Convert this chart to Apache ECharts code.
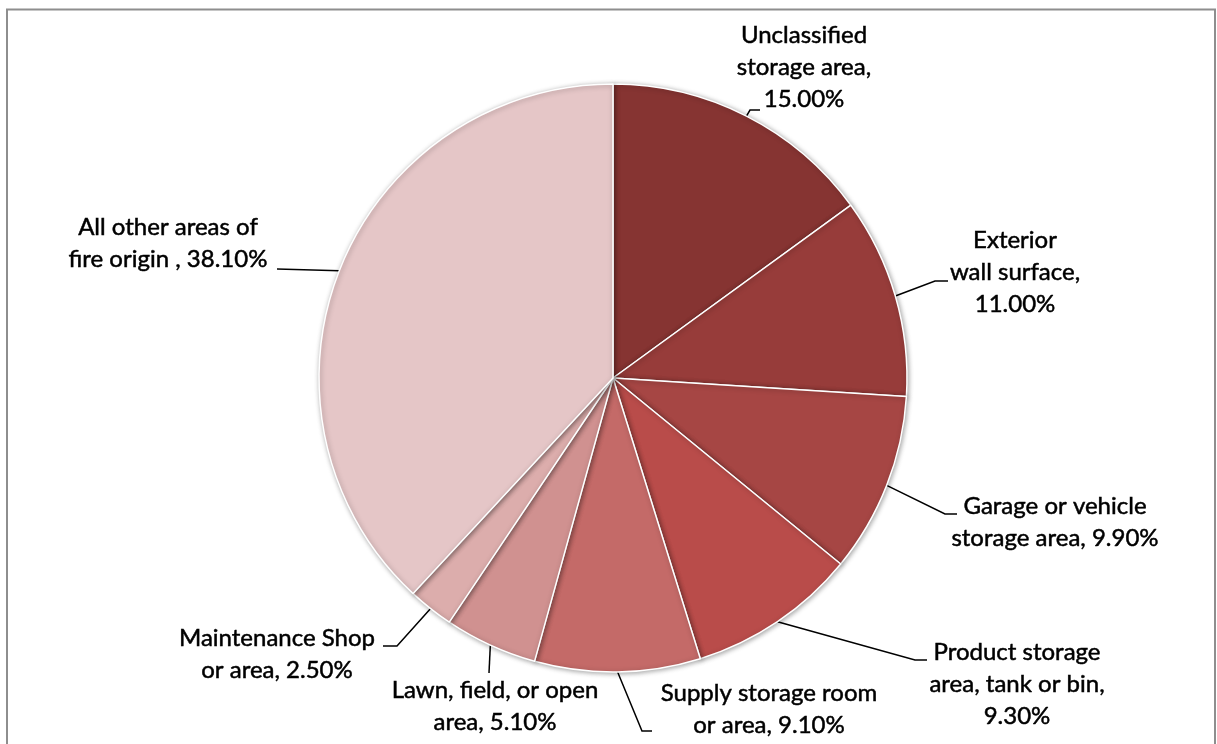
<!DOCTYPE html>
<html>
<head>
<meta charset="utf-8">
<script src="https://cdn.jsdelivr.net/npm/echarts@6/dist/echarts.min.js"></script>
<style>
  html, body { margin: 0; padding: 0; background: #ffffff; }
  #chart { width: 1217px; height: 744px; }
</style>
</head>
<body>
<div id="chart"></div>
<script>
// Areas of fire origin and their shares (%)
const categories = [
  'Unclassified storage area',
  'Exterior wall surface',
  'Garage or vehicle storage area',
  'Product storage area, tank or bin',
  'Supply storage room or area',
  'Lawn, field, or open area',
  'Maintenance Shop or area',
  'All other areas of fire origin '
];
const values = [15.0, 11.0, 9.9, 9.3, 9.1, 5.1, 2.5, 38.1];

// Label text as wrapped on the chart, and the separator before the value
const labelNames = [
  'Unclassified\nstorage area',
  'Exterior\nwall surface',
  'Garage or vehicle\nstorage area',
  'Product storage\narea, tank or bin',
  'Supply storage room\nor area',
  'Lawn, field, or open\narea',
  'Maintenance Shop\nor area',
  'All other areas of\nfire origin '
];
const valueSeparators = [',\n', ',\n', ', ', ',\n', ', ', ', ', ', ', ', '];

const sliceColors = ['#863432', '#973c3a', '#a64644', '#b94c4a', '#c46a68', '#d09190', '#dcadac', '#e5c6c7'];

// Label placement: text centre, leader bend point, leader end point
const labelSpots = [
  { x: 804, y: 67,  bend: [750, 110], end: [760, 110] },
  { x: 1015, y: 272, bend: [935, 281], end: [948, 281] },
  { x: 1055, y: 522, bend: [945, 514], end: [957, 514] },
  { x: 1017, y: 684, bend: [915, 660], end: [927, 660] },
  { x: 769, y: 709, bend: [642, 731], end: [652, 731] },
  { x: 495, y: 706, bend: [489, 673], end: [489, 673] },
  { x: 277, y: 654, bend: [397, 646], end: [383, 646] },
  { x: 168, y: 243, bend: [277, 269], end: [277, 269] }
];

const chart = echarts.init(document.getElementById('chart'), null, { renderer: 'canvas' });

const option = {
  backgroundColor: '#ffffff',
  animation: false,
  graphic: [{
    type: 'rect',
    shape: { x: 7, y: 9.5, width: 1208, height: 760 },
    style: { fill: 'none', stroke: '#8e8e8e', lineWidth: 2 },
    z: 0
  }],
  series: [{
    type: 'pie',
    center: [613, 378],
    radius: 294,
    startAngle: 90,
    clockwise: true,
    avoidLabelOverlap: false,
    data: categories.map((name, i) => ({
      name: name,
      value: values[i],
      itemStyle: { color: sliceColors[i] }
    })),
    itemStyle: {
      borderColor: '#ffffff',
      borderWidth: 1.5,
      shadowBlur: 5,
      shadowColor: 'rgba(0,0,0,0.35)',
      shadowOffsetX: 1,
      shadowOffsetY: 1
    },
    label: {
      show: true,
      position: 'outside',
      color: '#000000',
      fontFamily: 'Lato, "Open Sans", sans-serif',
      fontSize: 24,
      lineHeight: 32,
      align: 'center',
      textBorderColor: '#000000',
      textBorderWidth: 0.5,
      formatter: p => labelNames[p.dataIndex] + valueSeparators[p.dataIndex] + p.value.toFixed(2) + '%'
    },
    labelLine: {
      show: true,
      length: 10,
      length2: 10,
      lineStyle: { color: '#000000', width: 1.5 }
    },
    labelLayout: function (params) {
      const s = labelSpots[params.dataIndex];
      const start = params.labelLinePoints ? params.labelLinePoints[0] : s.bend;
      return {
        x: s.x,
        y: s.y,
        align: 'center',
        verticalAlign: 'middle',
        labelLinePoints: [start, s.bend, s.end]
      };
    },
    emphasis: { disabled: true }
  }]
};

chart.setOption(option);
</script>
</body>
</html>
